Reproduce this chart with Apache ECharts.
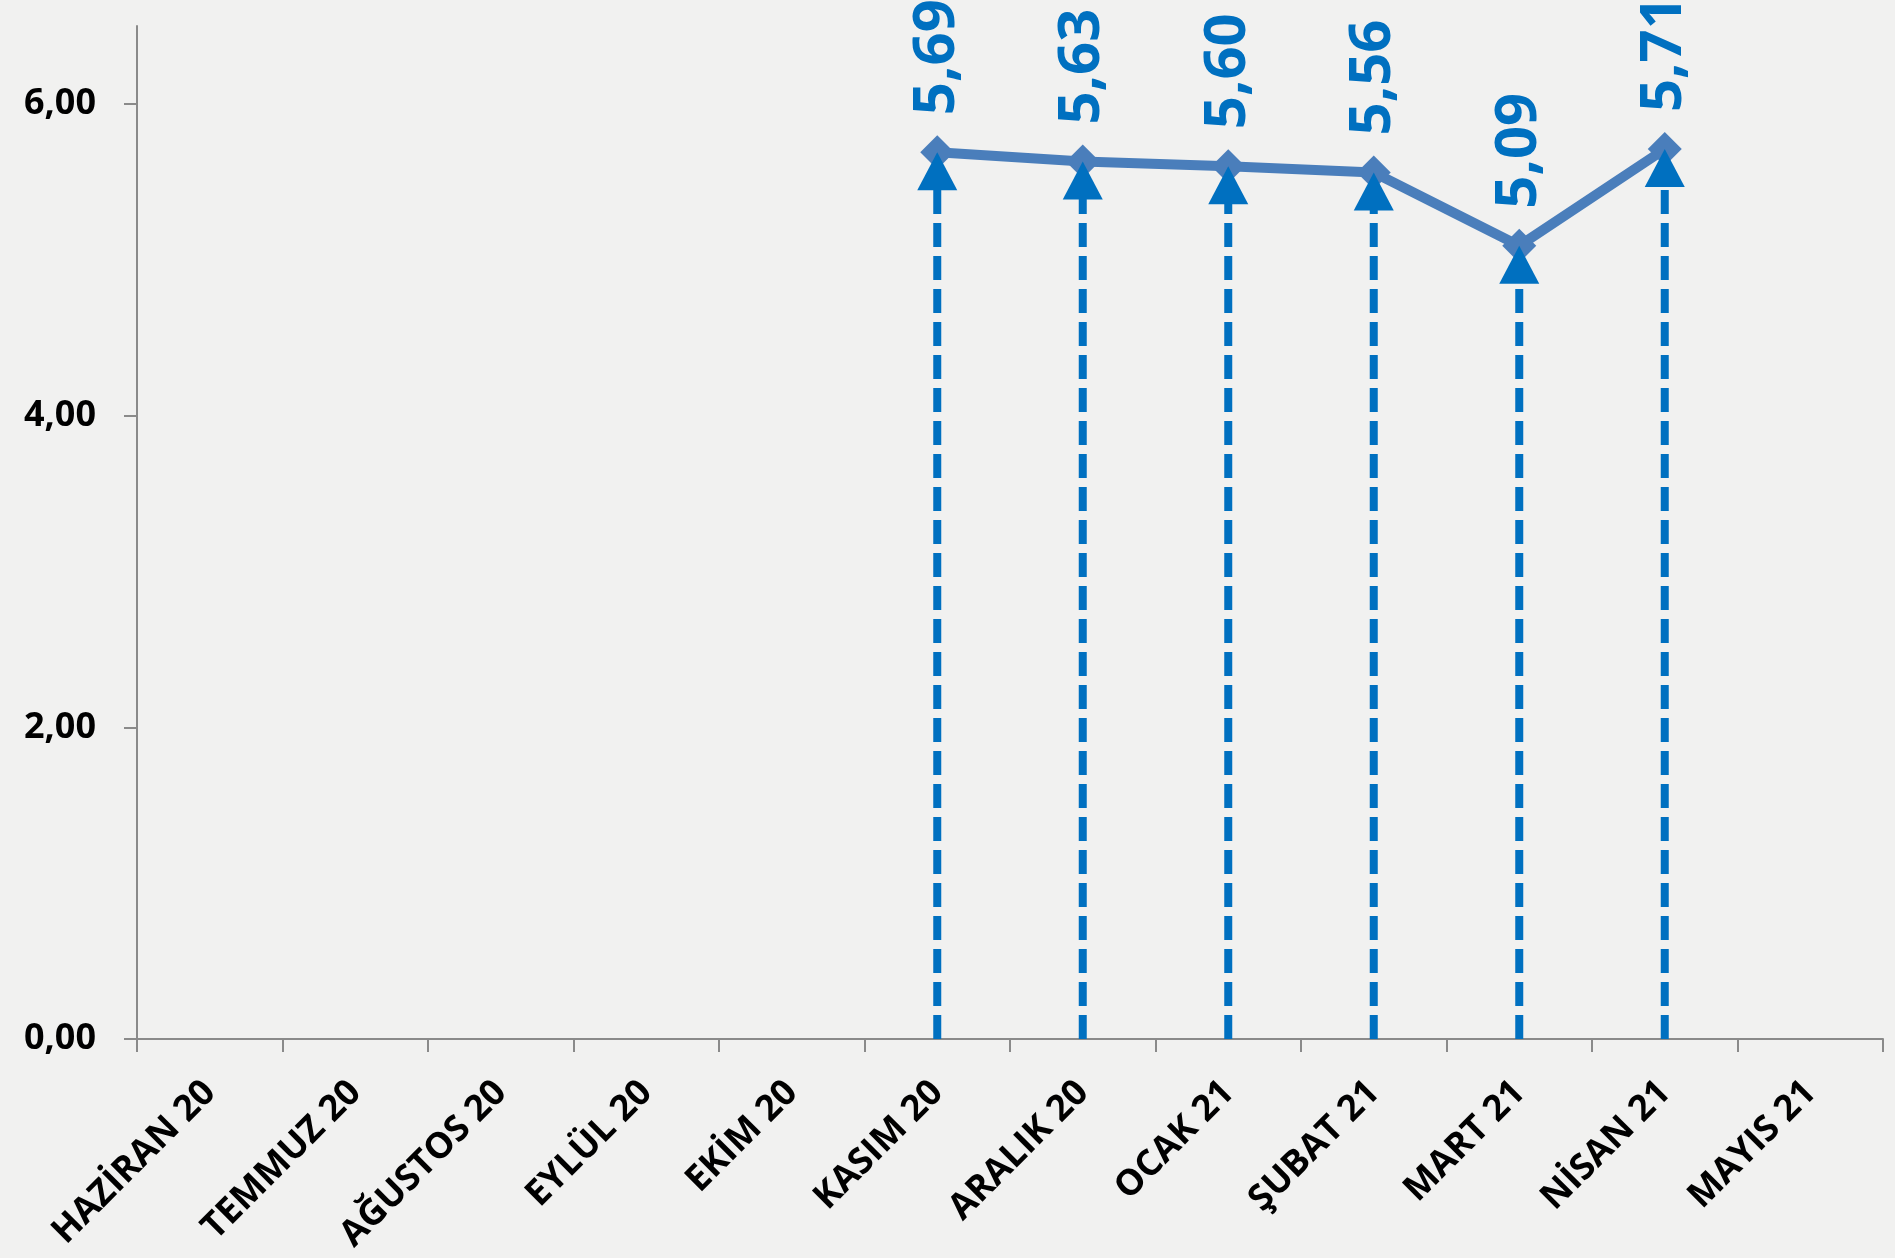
<!doctype html>
<html lang="tr">
<head>
    <meta charset="utf-8">
    <title>Aylık değerler</title>
    <style>
        html, body { margin: 0; padding: 0; background: #f1f1f0; }
        #main { width: 1895px; height: 1258px; }
    </style>
</head>
<body>

<div id="main"></div>

<script src="https://cdn.jsdelivr.net/npm/echarts@6/dist/echarts.min.js"></script>
<script>

    // aylar
    var months = ['HAZİRAN 20', 'TEMMUZ 20', 'AĞUSTOS 20', 'EYLÜL 20', 'EKİM 20', 'KASIM 20',
        'ARALIK 20', 'OCAK 21', 'ŞUBAT 21', 'MART 21', 'NİSAN 21', 'MAYIS 21'];
    // değerler (boş aylar null)
    var values = [null, null, null, null, null, 5.69, 5.63, 5.60, 5.56, 5.09, 5.71, null];
    // y ekseni
    var yTicks = [0, 2, 4, 6];
    var yMax = 6.5;

    var myChart = echarts.init(document.getElementById('main'));

    // ok işaretleri için veri
    var arrowData = [];
    for (var i = 0; i < values.length; i++) {
        if (values[i] != null) arrowData.push([i, values[i]]);
    }

    var fmt = function (v) {
        return v.toFixed(2).replace('.', ',');
    };

    var option = {
        backgroundColor: '#f1f1f0',
        animation: false,
        grid: {
            left: 137,
            right: 12,
            top: 26,
            bottom: 219
        },
        xAxis: {
            type: 'category',
            data: months,
            boundaryGap: true,
            axisLine: { lineStyle: { color: '#8a8a8a', width: 2 } },
            axisTick: { show: true, interval: 0, length: 13, lineStyle: { color: '#8a8a8a', width: 2 } },
            axisLabel: {
                interval: 0,
                rotate: 45,
                margin: 48,
                color: '#000',
                fontFamily: 'Open Sans',
                fontWeight: 'bold',
                fontSize: 36
            },
            splitLine: { show: false }
        },
        yAxis: {
            type: 'value',
            min: 0,
            max: yMax,
            interval: 2,
            axisLine: { show: true, lineStyle: { color: '#8a8a8a', width: 2 } },
            axisTick: { show: true, length: 13, customValues: yTicks, lineStyle: { color: '#8a8a8a', width: 2 } },
            axisLabel: {
                customValues: yTicks,
                margin: 41,
                color: '#000',
                fontFamily: 'Open Sans',
                fontWeight: 'bold',
                fontSize: 36,
                formatter: function (v) { return fmt(v); }
            },
            splitLine: { show: false }
        },
        series: [
            {
                type: 'line',
                data: values,
                symbol: 'diamond',
                symbolSize: [34, 34],
                lineStyle: { color: '#4a7ebb', width: 10 },
                itemStyle: { color: '#4a7ebb' },
                z: 2,
                label: {
                    show: true,
                    position: 'top',
                    distance: 20,
                    rotate: 90,
                    align: 'left',
                    verticalAlign: 'middle',
                    color: '#0070c0',
                    fontFamily: 'Open Sans',
                    fontWeight: 'bold',
                    fontSize: 58,
                    formatter: function (p) { return fmt(p.value); }
                }
            },
            //kesikli oklar
            {
                type: 'custom',
                data: arrowData,
                z: 3,
                renderItem: function (params, api) {
                    var top = api.coord([api.value(0), api.value(1)]);
                    var base = api.coord([api.value(0), 0]);
                    var w = 40, h = 38;
                    return {
                        type: 'group',
                        children: [
                            {
                                type: 'line',
                                shape: { x1: top[0], y1: base[1], x2: top[0], y2: top[1] + h - 2 },
                                style: { stroke: '#0070c0', lineWidth: 8, lineDash: [24, 9] }
                            },
                            {
                                type: 'polygon',
                                shape: { points: [[top[0], top[1]], [top[0] - w / 2, top[1] + h], [top[0] + w / 2, top[1] + h]] },
                                style: { fill: '#0070c0' }
                            }
                        ]
                    };
                }
            }
        ]
    };

    myChart.setOption(option);

</script>
</body>
</html>
